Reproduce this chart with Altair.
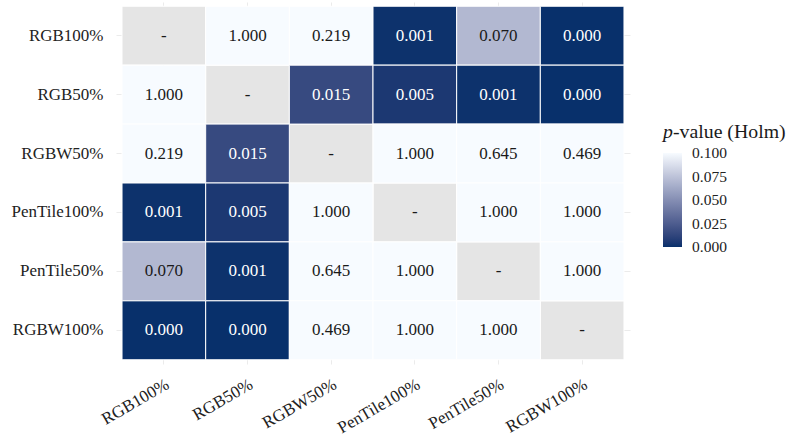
import altair as alt
import pandas as pd
import numpy as np

cats = ["RGB100%", "RGB50%", "RGBW50%", "PenTile100%", "PenTile50%", "RGBW100%"]
# p-values (Holm), rows top-to-bottom, columns left-to-right; None = diagonal
row_rgb100 = [None, 1.000, 0.219, 0.001, 0.070, 0.000]
row_rgb50 = [1.000, None, 0.015, 0.005, 0.001, 0.000]
row_rgbw50 = [0.219, 0.015, None, 1.000, 0.645, 0.469]
row_pt100 = [0.001, 0.005, 1.000, None, 1.000, 1.000]
row_pt50 = [0.070, 0.001, 0.645, 1.000, None, 1.000]
row_rgbw100 = [0.000, 0.000, 0.469, 1.000, 1.000, None]
matrix = [row_rgb100, row_rgb50, row_rgbw50, row_pt100, row_pt50, row_rgbw100]
# legend break values (ends nudged inward by a hair so labels centre on the ends)
legend_values = [0.00001, 0.025, 0.05, 0.075, 0.09999]

recs = []
for r, rowname in enumerate(cats):
    for c, colname in enumerate(cats):
        v = matrix[r][c]
        recs.append({
            "row": rowname,
            "col": colname,
            "value": v,
            "label": "-" if v is None else f"{v:.3f}",
            "isna": v is None,
            "dark": (v is not None and v < 0.05),
        })
df = pd.DataFrame(recs)

FONT = "Liberation Serif"
W, H = 514, 362

xenc = alt.X("col:N", sort=cats,
             scale=alt.Scale(paddingOuter=0.072, paddingInner=0),
             axis=alt.Axis(title=None, labelAngle=330, labelAlign="right",
                           labelBaseline="top", ticks=False, domain=False,
                           grid=True, gridColor="#ebebeb", gridWidth=1, zindex=0,
                           bandPosition=0.5, labelPadding=12,
                           labelFont=FONT, labelFontSize=17, labelColor="#222222"))
yenc = alt.Y("row:N", sort=cats,
             scale=alt.Scale(paddingOuter=0.072, paddingInner=0),
             axis=alt.Axis(title=None, ticks=False, domain=False,
                           grid=True, gridColor="#ebebeb", gridWidth=1, zindex=0,
                           bandPosition=0.5, labelPadding=13,
                           labelFont=FONT, labelFontSize=17, labelColor="#222222"))

base = alt.Chart(df)

tiles = base.transform_filter("!datum.isna").mark_rect(stroke="white", strokeWidth=1).encode(
    x=xenc, y=yenc,
    color=alt.Color("value:Q",
                    scale=alt.Scale(domain=[0, 0.1], clamp=True,
                                    range=["#08306b", "#f7fbff"], interpolate="lab"),
                    legend=alt.Legend(title=None, orient="none", legendX=547, legendY=151,
                                      gradientLength=94, gradientThickness=19,
                                      values=legend_values, format=".3f",
                                      labelFont=FONT, labelFontSize=15.5,
                                      labelColor="#222222", labelOffset=10,
                                      labelBaseline="middle", labelOverlap=False,
                                      gradientStrokeWidth=0)),
)

na_tiles = base.transform_filter("datum.isna").mark_rect(
    fill="#e5e5e5", stroke="white", strokeWidth=1).encode(x=xenc, y=yenc)

labels = base.mark_text(font=FONT, fontSize=17).encode(
    x=xenc, y=yenc, text="label:N",
    color=alt.condition("datum.dark", alt.value("white"), alt.value("#1a1a1a")),
)

title_df = pd.DataFrame({"t": [0]})
title_p = alt.Chart(title_df).mark_text(
    text="p", font=FONT, fontSize=19.8, fontStyle="italic", align="left",
    baseline="alphabetic", color="#1a1a1a").encode(x=alt.value(547), y=alt.value(136))
title_rest = alt.Chart(title_df).mark_text(
    text="-value (Holm)", font=FONT, fontSize=19.8, align="left",
    baseline="alphabetic", color="#1a1a1a").encode(x=alt.value(557), y=alt.value(136))

chart = alt.layer(na_tiles, tiles, labels, title_p, title_rest).properties(
    width=W, height=H,
    autosize=alt.AutoSizeParams(type="none"),
    padding={"left": 116, "top": 2, "right": 797 - 116 - W, "bottom": 439 - 2 - H},
).configure_view(stroke=None)

chart.save("out.html", embed_options={"renderer": "svg", "actions": False})
